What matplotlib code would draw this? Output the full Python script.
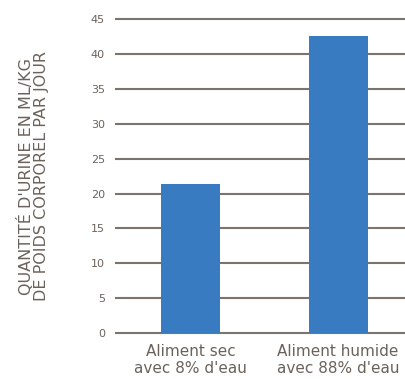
import matplotlib
matplotlib.use("Agg")
import matplotlib.pyplot as plt
import numpy as np

# urine volume per kg body weight per day
categories = ["Aliment sec\navec 8% d'eau", "Aliment humide\navec 88% d'eau"]
values = [21.4, 42.5]
yticks = [0, 5, 10, 15, 20, 25, 30, 35, 40, 45]

BAR = "#387bc0"
GRID = "#7d736d"
TEXT = "#6b625c"

plt.rcParams["font.family"] = "DejaVu Sans"

fig = plt.figure(figsize=(4.06, 3.79), dpi=100)
ax = fig.add_axes([0.286, 0.121, 0.714, 0.829])

x = np.arange(len(categories))
ax.bar(x, values, width=0.4, color=BAR, zorder=3)

# horizontal rules, unclipped so the first and last are full width
for t in yticks:
    ax.axhline(t, color=GRID, linewidth=1.5, zorder=1, clip_on=False)

ax.set_ylim(0, 45)
ax.set_xlim(-0.503, 1.46)
ax.set_yticks(yticks)
ax.set_yticklabels([str(t) for t in yticks], fontsize=8, color=TEXT)
ax.set_xticks(x)
ax.set_xticklabels(categories, fontsize=11, color=TEXT, linespacing=1.15)
ax.tick_params(length=0)
ax.tick_params(axis="y", pad=8)
ax.tick_params(axis="x", pad=8)
for s in ax.spines.values():
    s.set_visible(False)

ax.set_ylabel("QUANTITÉ D'URINE EN ML/KG\nDE POIDS CORPOREL PAR JOUR",
              fontsize=11.5, color=TEXT, labelpad=30, linespacing=1.0)

fig.savefig("out.png", dpi=100)
